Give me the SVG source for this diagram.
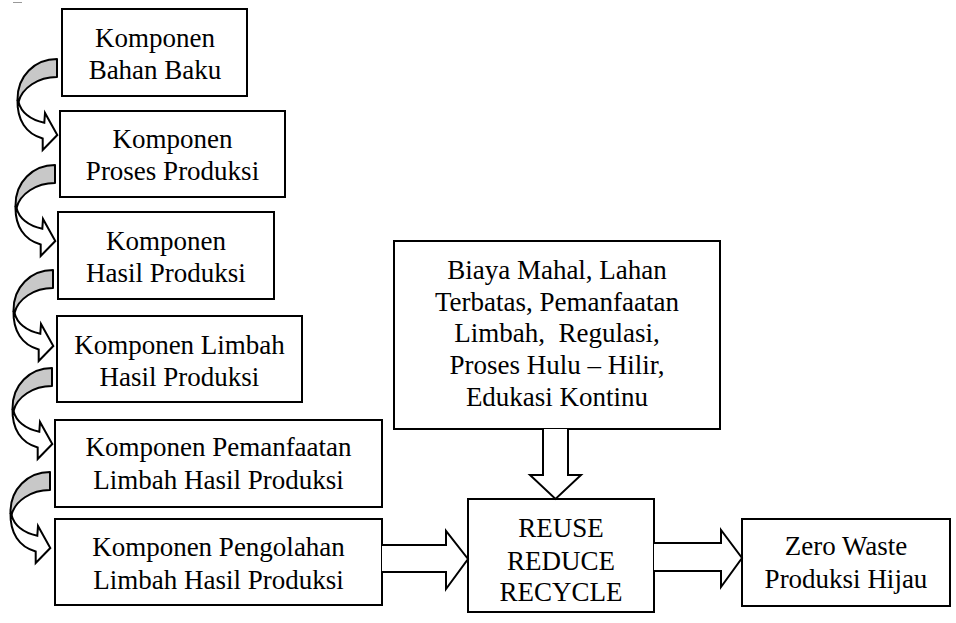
<svg xmlns="http://www.w3.org/2000/svg" xmlns:xlink="http://www.w3.org/1999/xlink" width="956" height="623" viewBox="0 0 956 623">
<style>
  .box { fill: #fff; stroke: #000; stroke-width: 2; }
  .t { font-family: "Liberation Serif", "Times New Roman", serif; font-size: 27px; fill: #000; text-anchor: middle; white-space: pre; }
  .blk { fill: #fff; stroke: #000; stroke-width: 2; stroke-linejoin: miter; }
  .cg { fill: #c8c8c8; stroke: #000; stroke-width: 2; stroke-linejoin: round; }
  .cw { fill: #fff; stroke: #000; stroke-width: 2; stroke-linejoin: miter; }
</style>
<defs>
  <g id="curve">
    <path class="cg" d="M57,59 C35,59 17,76 17.5,100 L18.5,102 C22,88 38,77 57,77 Z"/>
    <path class="cw" d="M17.5,100 C17,120 26,134 42.7,138.5 L42.7,150 L57.3,135 L45,113 L44.3,122.7 C30,120 21,112 18.5,102 Z"/>
  </g>
</defs>
<rect width="956" height="623" fill="#fff"/>
<line x1="13" y1="2.5" x2="22" y2="2.5" stroke="#999" stroke-width="1"/>

<g id="n1"><rect class="box" x="62" y="9" width="185" height="87"/>
  <text class="t" x="155" y="47">Komponen</text><text class="t" x="155" y="79">Bahan Baku</text></g>
<g id="n2"><rect class="box" x="60" y="111" width="225" height="86"/>
  <text class="t" x="172.5" y="148">Komponen</text><text class="t" x="172.5" y="180">Proses Produksi</text></g>
<g id="n3"><rect class="box" x="58" y="212" width="216" height="87"/>
  <text class="t" x="166" y="250">Komponen</text><text class="t" x="166" y="282">Hasil Produksi</text></g>
<g id="n4"><rect class="box" x="57" y="316" width="245" height="86"/>
  <text class="t" x="179.5" y="354">Komponen Limbah</text><text class="t" x="179.5" y="386">Hasil Produksi</text></g>
<g id="n5"><rect class="box" x="55" y="420" width="327" height="87"/>
  <text class="t" x="218.5" y="456">Komponen Pemanfaatan</text><text class="t" x="218.5" y="489">Limbah Hasil Produksi</text></g>
<g id="n6"><rect class="box" x="55" y="519" width="327" height="86"/>
  <text class="t" x="218.5" y="556">Komponen Pengolahan</text><text class="t" x="218.5" y="589">Limbah Hasil Produksi</text></g>
<g id="n7"><rect class="box" x="394" y="241" width="326" height="188"/>
  <text class="t" x="557" y="279">Biaya Mahal, Lahan</text>
  <text class="t" x="557" y="311">Terbatas, Pemanfaatan</text>
  <text class="t" x="557" y="342">Limbah,  Regulasi,</text>
  <text class="t" x="557" y="374">Proses Hulu – Hilir,</text>
  <text class="t" x="557" y="406">Edukasi Kontinu</text></g>
<g id="n8"><rect class="box" x="468" y="499" width="186" height="113"/>
  <text class="t" x="561" y="537">REUSE</text><text class="t" x="561" y="570">REDUCE</text><text class="t" x="561" y="601">RECYCLE</text></g>
<g id="n9"><rect class="box" x="742" y="519" width="208" height="87"/>
  <text class="t" x="846" y="555">Zero Waste</text><text class="t" x="846" y="588">Produksi Hijau</text></g>

<g id="connectors">
  <use xlink:href="#curve"/>
  <use xlink:href="#curve" transform="translate(-2,106)"/>
  <use xlink:href="#curve" transform="translate(-4,211)"/>
  <use xlink:href="#curve" transform="translate(-5,309)"/>
  <use xlink:href="#curve" transform="translate(-7,413)"/>
  <path class="blk" d="M382,545 L446,545 L446,531 L468,559 L446,589 L446,572 L382,572"/>
  <path class="blk" d="M543,429 L543,475 L530,475 L555.5,499 L581,475 L568,475 L568,429"/>
  <path class="blk" d="M654,543 L721,543 L721,530 L742,558 L721,587 L721,571 L654,571"/>
</g>
</svg>
